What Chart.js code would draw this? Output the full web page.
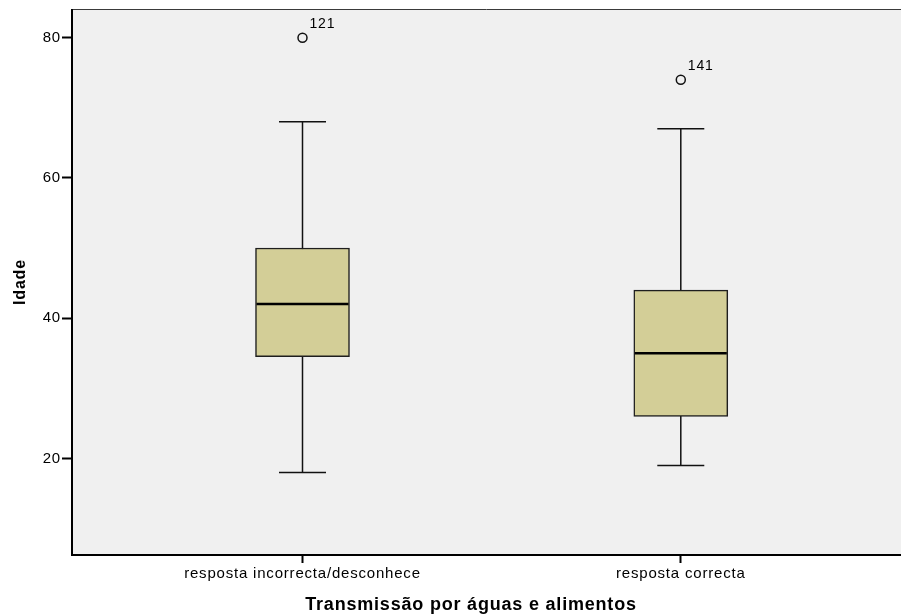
<!DOCTYPE html>
<html>
<head>
<meta charset="utf-8">
<script src="https://cdn.jsdelivr.net/npm/chart.js@4"></script>
<style>
  html, body { margin: 0; padding: 0; background: #fff; overflow: hidden; }
  canvas { display: block; }
</style>
</head>
<body>
<canvas id="c" width="901" height="616"></canvas>
<script>
// Age (Idade) by answer on transmission through water and food
const categories = ['resposta incorrecta/desconhece', 'resposta correcta'];
const q1 = [34.5, 26];
const median = [42, 35];
const q3 = [50, 44];
const whiskerLow = [18, 19];
const whiskerHigh = [68, 67];
const outlierGroup = [0, 1];
const outlierValues = [80, 74];
const outlierIds = ['121', '141'];
const yTicks = [20, 40, 60, 80];
const xTitle = 'Transmissão por águas e alimentos';
const yTitle = 'Idade';

const FONT = '"Liberation Sans", Arial, Helvetica, sans-serif';
const BOX_WIDTH = 94;
const LETTER_SPACING = '0.8px';

// wide SPSS-style lettering
const spacingPlugin = {
  id: 'spacing',
  beforeUpdate(chart) { chart.ctx.letterSpacing = LETTER_SPACING; },
  beforeDraw(chart) { chart.ctx.letterSpacing = LETTER_SPACING; }
};

// grey plot background and frame (no right edge inside the canvas)
const framePlugin = {
  id: 'frame',
  beforeDraw(chart) {
    const { ctx, chartArea: { left, top, right, bottom } } = chart;
    ctx.save();
    ctx.fillStyle = '#f0f0f0';
    ctx.fillRect(left, top, right - left, bottom - top);
    ctx.restore();
  },
  afterDraw(chart) {
    const { ctx, chartArea: { left, top, right, bottom } } = chart;
    ctx.save();
    ctx.strokeStyle = '#3a3a3a';
    ctx.lineWidth = 1;
    ctx.beginPath();
    ctx.moveTo(left, top + 0.5);
    ctx.lineTo(right, top + 0.5);
    ctx.stroke();
    ctx.strokeStyle = '#000';
    ctx.lineWidth = 2;
    ctx.beginPath();
    ctx.moveTo(left, top);
    ctx.lineTo(left, bottom);
    ctx.lineTo(right, bottom);
    ctx.stroke();
    ctx.restore();
  }
};

// whiskers, medians and outlier case numbers
const boxPlugin = {
  id: 'boxParts',
  beforeDatasetsDraw(chart) {
    const { ctx, scales: { x, y } } = chart;
    ctx.save();
    ctx.strokeStyle = '#111';
    ctx.lineWidth = 1.5;
    categories.forEach((_, i) => {
      const px = x.getPixelForValue(i + 1);
      const lo = y.getPixelForValue(whiskerLow[i]);
      const hi = y.getPixelForValue(whiskerHigh[i]);
      const half = BOX_WIDTH / 4;
      ctx.beginPath();
      ctx.moveTo(px, lo);
      ctx.lineTo(px, hi);
      ctx.moveTo(px - half, lo);
      ctx.lineTo(px + half, lo);
      ctx.moveTo(px - half, hi);
      ctx.lineTo(px + half, hi);
      ctx.stroke();
    });
    ctx.restore();
  },
  afterDatasetsDraw(chart) {
    const { ctx, scales: { x, y } } = chart;
    ctx.save();
    ctx.strokeStyle = '#000';
    ctx.lineWidth = 2.5;
    categories.forEach((_, i) => {
      const px = x.getPixelForValue(i + 1);
      const py = y.getPixelForValue(median[i]);
      ctx.beginPath();
      ctx.moveTo(px - BOX_WIDTH / 2 + 1, py);
      ctx.lineTo(px + BOX_WIDTH / 2 - 1, py);
      ctx.stroke();
    });
    ctx.fillStyle = '#000';
    ctx.font = '14px ' + FONT;
    ctx.textAlign = 'left';
    ctx.textBaseline = 'alphabetic';
    outlierValues.forEach((v, i) => {
      const px = x.getPixelForValue(outlierGroup[i] + 1);
      const py = y.getPixelForValue(v);
      ctx.fillText(outlierIds[i], px + 7, py - 10);
    });
    ctx.restore();
  },
  afterDraw(chart) {
    const { ctx, chartArea } = chart;
    ctx.save();
    ctx.fillStyle = '#000';
    ctx.font = 'bold 18px ' + FONT;
    ctx.textAlign = 'center';
    ctx.textBaseline = 'alphabetic';
    ctx.fillText(xTitle, chartArea.left + 399, chartArea.bottom + 55);
    ctx.restore();
  }
};

new Chart(document.getElementById('c'), {
  type: 'bar',
  data: {
    datasets: [
      {
        type: 'bar',
        data: categories.map((_, i) => ({ x: i + 1, y: [q1[i], q3[i]] })),
        backgroundColor: '#d3ce97',
        borderColor: '#1e1e1e',
        borderWidth: 1.5,
        borderSkipped: false,
        barThickness: BOX_WIDTH,
        grouped: false
      },
      {
        type: 'scatter',
        data: outlierValues.map((v, i) => ({ x: outlierGroup[i] + 1, y: v })),
        pointStyle: 'circle',
        pointRadius: 4.5,
        pointHoverRadius: 4.5,
        borderColor: '#111',
        borderWidth: 1.5,
        backgroundColor: 'rgba(0,0,0,0)'
      }
    ]
  },
  options: {
    responsive: false,
    animation: false,
    events: [],
    layout: { autoPadding: false, padding: { top: 9, left: 0, right: 0, bottom: 0 } },
    plugins: { legend: { display: false }, tooltip: { enabled: false } },
    scales: {
      x: {
        type: 'linear',
        offset: false,
        min: 0.3907,
        max: 2.5821,
        afterBuildTicks: s => { s.ticks = categories.map((_, i) => ({ value: i + 1 })); },
        afterFit: s => { s.height = 61; s.paddingLeft = 0; s.paddingRight = 0; },
        border: { display: false },
        grid: { display: true, offset: false, drawOnChartArea: false, drawTicks: true, tickLength: 8, tickColor: '#000', tickWidth: 2 },
        ticks: {
          autoSkip: false,
          maxRotation: 0,
          padding: 2,
          color: '#000',
          font: { family: FONT, size: 15 },
          callback: v => categories[v - 1]
        }
      },
      y: {
        type: 'linear',
        min: 6.22,
        max: 84.09,
        afterBuildTicks: s => { s.ticks = yTicks.map(v => ({ value: v })); },
        afterFit: s => { s.width = 72; s.paddingTop = 0; s.paddingBottom = 0; },
        border: { display: false },
        grid: { display: true, drawOnChartArea: false, drawTicks: true, tickLength: 10, tickColor: '#000', tickWidth: 2 },
        ticks: { padding: 1, color: '#000', font: { family: FONT, size: 15 } },
        title: {
          display: true,
          text: yTitle,
          color: '#000',
          font: { family: FONT, size: 16, weight: 'bold' },
          padding: { top: 11, bottom: 0 }
        }
      }
    }
  },
  plugins: [spacingPlugin, framePlugin, boxPlugin]
});
</script>
</body>
</html>
